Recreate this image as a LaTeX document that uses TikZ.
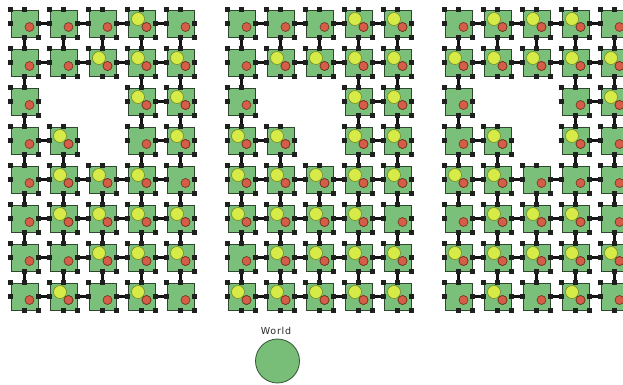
\documentclass[tikz,border=0pt]{standalone}
\usepackage{fontspec}
\newfontfamily\worldfont[LetterSpace=8]{DejaVu Sans}
\definecolor{cellgreen}{RGB}{122,191,122}
\definecolor{celledge}{RGB}{45,70,45}
\definecolor{portblack}{RGB}{30,32,30}
\definecolor{linkblack}{RGB}{20,20,20}
\definecolor{redfill}{RGB}{214,94,72}
\definecolor{reddark}{RGB}{110,50,30}
\definecolor{yfill}{RGB}{214,234,72}
\definecolor{ydark}{RGB}{120,140,30}
\definecolor{worldgreen}{RGB}{120,190,120}
\definecolor{worlddark}{RGB}{50,85,50}
\definecolor{textgray}{RGB}{40,40,40}
\newif\ifcellgone
\newcommand\testgone[1]{\cellgonefalse\ifnum#1=21 \cellgonetrue\fi\ifnum#1=22 \cellgonetrue\fi\ifnum#1=32 \cellgonetrue\fi}
\begin{document}
\begin{tikzpicture}[x=1pt,y=-1pt,
  cell/.style={rectangle, draw=celledge, fill=cellgreen, line width=0.9pt, minimum size=27pt, inner sep=0pt},
  port/.style={rectangle, fill=portblack, minimum size=5pt, inner sep=0pt},
  link/.style={line width=2.9pt, draw=linkblack},
  reddot/.style={circle, draw=reddark, fill=redfill, line width=0.6pt, minimum size=9pt, inner sep=0pt, xshift=5pt, yshift=-3.5pt},
  yellowdot/.style={circle, draw=ydark, fill=yfill, line width=0.6pt, minimum size=13pt, inner sep=0pt, xshift=-3.5pt, yshift=4.5pt}]
\useasboundingbox (0,0) rectangle (623,384);
\clip (0,0) rectangle (623,384);
\fill[white] (0,0) rectangle (623,384);
% cells
\foreach \g/\ox in {1/0,2/217,3/434}{
  \foreach \r in {0,...,7}{
    \foreach \c in {0,...,4}{
      \pgfmathtruncatemacro\code{\r*10+\c}
      \testgone{\code}
      \ifcellgone\else
        \node[cell] (g\g r\r c\c) at ({24.5+39*\c+\ox},{23.5+39*\r}) {};
        \node[reddot] (red\g r\r c\c) at (g\g r\r c\c.center) {};
      \fi
    }
  }
}
% links
\foreach \g in {1,2,3}{
  \foreach \r in {0,...,7}{
    \foreach \c in {0,...,3}{
      \pgfmathtruncatemacro\n{\c+1}
      \pgfmathtruncatemacro\ca{\r*10+\c}
      \pgfmathtruncatemacro\cb{\r*10+\c+1}
      \testgone{\ca}
      \ifcellgone\else
        \testgone{\cb}
        \ifcellgone\else
          \draw[link] (g\g r\r c\c.east) -- (g\g r\r c\n.west);
        \fi
      \fi
    }
  }
  \foreach \r in {0,...,6}{
    \foreach \c in {0,...,4}{
      \pgfmathtruncatemacro\n{\r+1}
      \pgfmathtruncatemacro\ca{\r*10+\c}
      \pgfmathtruncatemacro\cb{\r*10+\c+10}
      \testgone{\ca}
      \ifcellgone\else
        \testgone{\cb}
        \ifcellgone\else
          \draw[link] (g\g r\r c\c.south) -- (g\g r\n c\c.north);
        \fi
      \fi
    }
  }
}
% ports
\foreach \g in {1,2,3}{
  \foreach \r in {0,...,7}{
    \foreach \c in {0,...,4}{
      \pgfmathtruncatemacro\code{\r*10+\c}
      \testgone{\code}
      \ifcellgone\else
        \foreach \a in {north west,north,west,east,south,south east}{
          \node[port] at (g\g r\r c\c.\a) {};
        }
      \fi
    }
  }
}
% yellow dots
\foreach \r/\c in {0/3,1/2,1/3,1/4,2/3,2/4,3/1,3/4,4/1,4/2,4/3,5/1,5/2,5/3,5/4,6/2,6/3,6/4,7/1,7/3}{
  \node[yellowdot] (y1r\r c\c) at (g1r\r c\c.center) {};
  \node[reddot] at (g1r\r c\c.center) {};
}
\foreach \r/\c in {0/3,0/4,1/1,1/2,1/3,1/4,2/3,2/4,3/0,3/1,3/3,3/4,4/0,4/1,4/2,4/3,4/4,5/0,5/1,5/2,5/3,6/1,6/2,6/3,6/4,7/0,7/1,7/2,7/3,7/4}{
  \node[yellowdot] (y2r\r c\c) at (g2r\r c\c.center) {};
  \node[reddot] at (g2r\r c\c.center) {};
}
\foreach \r/\c in {0/1,0/2,0/3,1/0,1/1,1/2,1/3,1/4,2/4,3/1,3/3,4/0,4/1,5/1,5/2,5/3,6/0,6/1,6/2,6/3,6/4,7/1,7/3}{
  \node[yellowdot] (y3r\r c\c) at (g3r\r c\c.center) {};
  \node[reddot] at (g3r\r c\c.center) {};
}
% world
\node[text=textgray, font=\worldfont\fontsize{9.5}{11}\selectfont, inner sep=0pt] (worldlabel) at (276,331) {World};
\node[circle, draw=worlddark, fill=worldgreen, line width=0.8pt, minimum size=44pt, inner sep=0pt] (world) at (277.5,361) {};
\end{tikzpicture}
\end{document}
